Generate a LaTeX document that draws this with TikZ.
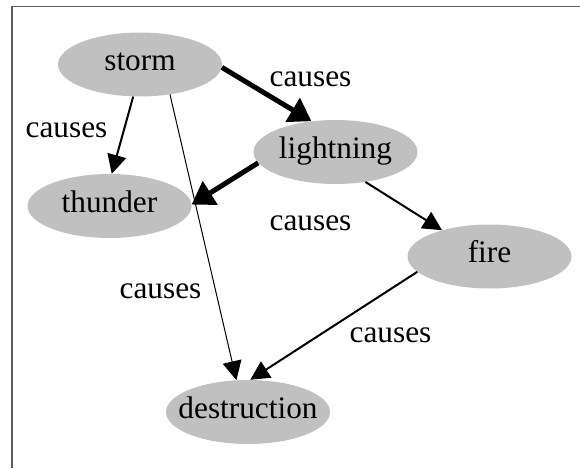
\documentclass[tikz,border=0pt]{standalone}
\usepackage{fontspec}
\setmainfont{Liberation Serif}
\usetikzlibrary{shapes.geometric,arrows.meta}
\definecolor{nodefill}{HTML}{C0C0C0}
\definecolor{framegray}{HTML}{5E5E5E}
\tikzset{
  gnode/.style={ellipse, fill=nodefill, draw=none, inner sep=0pt,
    minimum width=164pt, minimum height=64pt},
  every label/.style={font=\fontsize{31.3}{36}\selectfont, inner sep=0pt,
    text height=18pt, text depth=6pt},
  elabel/.style={font=\fontsize{31.3}{36}\selectfont, inner sep=0pt, anchor=base},
  thinedge/.style={line width=2pt, -{Triangle[length=19pt,width=19pt]}},
  hairedge/.style={line width=1pt, -{Triangle[length=19pt,width=19pt]}},
  thickedge/.style={line width=5pt, -{Triangle[length=22pt,width=27pt]}},
}
\begin{document}
\begin{tikzpicture}[x=1pt, y=-1pt]
  \useasboundingbox (0,0) rectangle (580,468);
  % frame: left and top edges
  \draw[framegray, line width=1.6pt] (11.8,468) -- (11.8,6.5) -- (580,6.5);

  % nodes
  \node[gnode, label=center:storm]       (storm)       at (140,64.5)  {};
  \node[gnode, label=center:thunder]     (thunder)     at (109.5,206) {};
  \node[gnode, label=center:lightning]   (lightning)   at (335.5,152) {};
  \node[gnode, label=center:fire]        (fire)        at (489.5,256.5) {};
  \node[gnode, label=center:destruction] (destruction) at (248,412)   {};

  % edges
  \draw[thickedge] (storm.-2.5)       -- (lightning.128);
  \draw[thinedge]  (storm.-102)       -- (thunder.86);
  \draw[hairedge]  (storm.-45)        -- (destruction.110.6);
  \draw[thickedge] (lightning.-172)   -- (thunder.1);
  \draw[thinedge]  (lightning.-45)    -- (fire.151.8);
  \draw[thinedge]  (fire.-168)        -- (destruction.86);

  % edge labels
  \node[elabel] (l1) at (310.5,87)  {causes};
  \node[elabel] (l2) at (66.5,137)  {causes};
  \node[elabel] (l3) at (310.5,230) {causes};
  \node[elabel] (l4) at (160.5,298) {causes};
  \node[elabel] (l5) at (390.5,342) {causes};
\end{tikzpicture}
\end{document}
